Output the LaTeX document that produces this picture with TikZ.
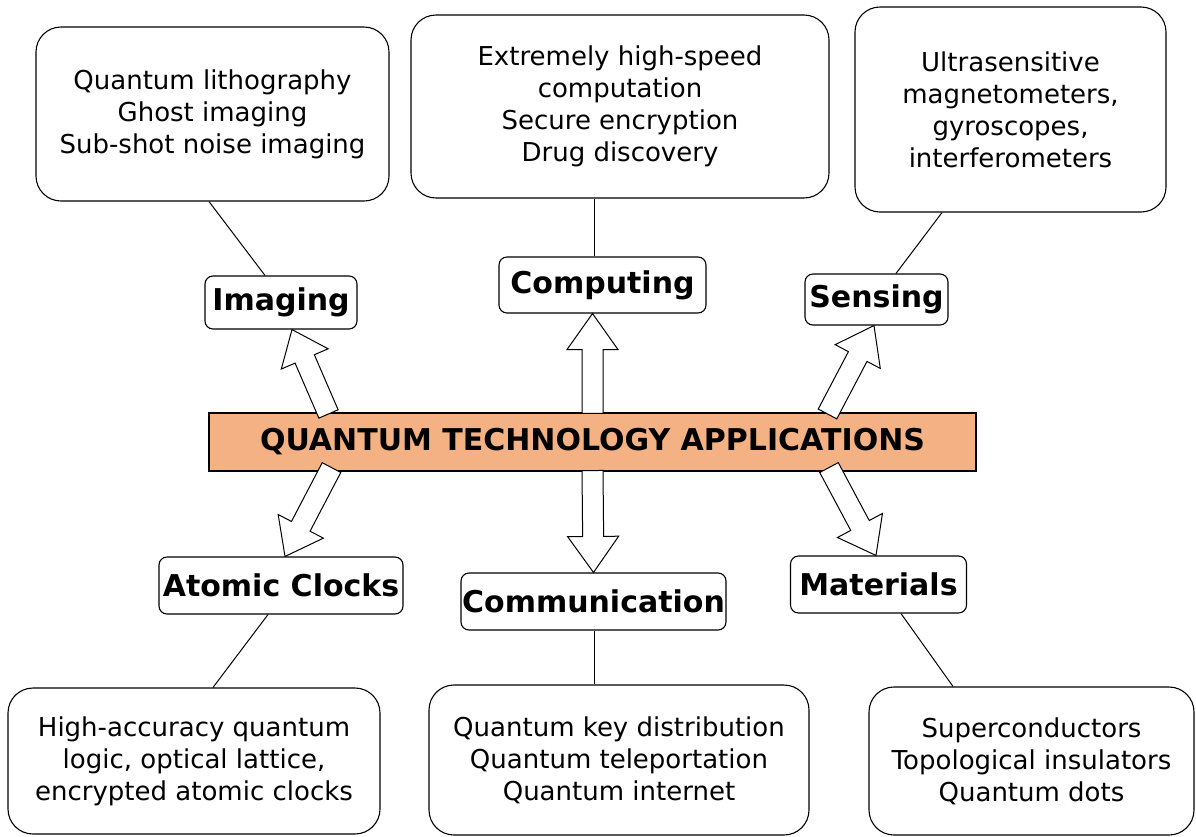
\documentclass[tikz,border=0pt]{standalone}
\usepackage{fontspec}
\setmainfont{DejaVu Sans}
\usetikzlibrary{calc}
\definecolor{qorange}{RGB}{244,177,131}
\tikzset{
  txtbox/.style={draw=black, line width=1.1pt, rounded corners=25pt, fill=white,
    align=center, inner sep=0pt, font=\fontsize{26}{32}\selectfont},
  lblbox/.style={draw=black, line width=1.1pt, rounded corners=8pt, fill=white,
    align=center, inner sep=0pt, font=\fontsize{30}{36}\selectfont\bfseries},
  mainbox/.style={draw=black, line width=1.1pt, fill=qorange,
    align=center, inner sep=0pt, font=\fontsize{30}{36}\selectfont\bfseries},
  link/.style={draw=black, line width=1pt},
  blockarrow/.style={draw=black, line width=1pt, fill=white, line join=miter}
}
\newcommand\blockarr[4]{% #1 name, #2 start, #3 tip, #4 head length
  \coordinate (#1hb) at ($(#3)!#4!(#2)$);
  \path[blockarrow] ($(#2)!10.5pt!90:(#3)$) -- ($(#1hb)!10.5pt!90:(#3)$)
    -- ($(#1hb)!25.5pt!90:(#3)$) -- (#3) -- ($(#1hb)!25.5pt!-90:(#3)$)
    -- ($(#1hb)!10.5pt!-90:(#3)$) -- ($(#2)!10.5pt!-90:(#3)$) -- cycle;
}
\begin{document}
\begin{tikzpicture}[x=1pt,y=-1pt]
\useasboundingbox (0,0) rectangle (1196,836);

% top boxes
\node[txtbox, minimum width=353pt, minimum height=174pt] (imgbox) at (212.5,114)
  {Quantum lithography\\Ghost imaging\\Sub-shot noise imaging};
\node[txtbox, minimum width=418pt, minimum height=183pt] (compbox) at (620,106.5)
  {Extremely high-speed\\computation\\Secure encryption\\Drug discovery};
\node[txtbox, minimum width=311pt, minimum height=205pt] (sensbox) at (1010.5,109.5)
  {Ultrasensitive\\magnetometers,\\gyroscopes,\\interferometers};

% labels
\node[lblbox, minimum width=152pt, minimum height=53pt] (imgl) at (281,302.5) {Imaging};
\node[lblbox, minimum width=207pt, minimum height=56pt] (compl) at (602.5,285) {Computing};
\node[lblbox, minimum width=143pt, minimum height=51pt] (sensl) at (876.5,299.5) {Sensing};
\node[lblbox, minimum width=244pt, minimum height=57pt] (atoml) at (281,585.5) {Atomic Clocks};
\node[lblbox, minimum width=265pt, minimum height=57pt] (comml) at (593.5,601.5) {Communication};
\node[lblbox, minimum width=176pt, minimum height=57pt] (matl) at (878.5,584.5) {Materials};

% central
\node[mainbox, minimum width=767pt, minimum height=58pt] (qta) at (592.5,442)
  {QUANTUM TECHNOLOGY APPLICATIONS};

% bottom boxes
\node[txtbox, minimum width=372pt, minimum height=146pt] (leftbot) at (194,761)
  {High-accuracy quantum\\logic, optical lattice,\\encrypted atomic clocks};
\node[txtbox, minimum width=380pt, minimum height=150pt] (midbot) at (619,760)
  {Quantum key distribution\\Quantum teleportation\\Quantum internet};
\node[txtbox, minimum width=325pt, minimum height=148pt] (rightbot) at (1031.5,761)
  {Superconductors\\Topological insulators\\Quantum dots};

% thin connectors
\draw[link] ([xshift=-3.5pt]imgbox.south) -- ([xshift=-16pt]imgl.north);
\draw[link] ([xshift=-26pt]compbox.south) -- ([xshift=-8.5pt]compl.north);
\draw[link] ([xshift=-68.5pt]sensbox.south) -- ([xshift=19.5pt]sensl.north);
\draw[link] ([xshift=-13pt]atoml.south) -- ([xshift=19pt]leftbot.north);
\draw[link] ([xshift=0.5pt]comml.south) -- ([xshift=-25pt]midbot.north);
\draw[link] ([xshift=22.5pt]matl.south) -- ([xshift=-78.5pt]rightbot.north);

% block arrows
\coordinate (imgA) at ([xshift=-264pt,yshift=-1.5pt]qta.north);
\coordinate (imgB) at ([xshift=11pt]imgl.south);
\coordinate (compA) at ([yshift=-1pt]qta.north);
\coordinate (compB) at ([xshift=-10pt]compl.south);
\coordinate (sensA) at ([xshift=235pt,yshift=-1.5pt]qta.north);
\coordinate (sensB) at ([xshift=-2.5pt]sensl.south);
\coordinate (atomA) at ([xshift=-261pt,yshift=4pt]qta.south);
\coordinate (atomB) at ([xshift=4pt]atoml.north);
\coordinate (commA) at ([yshift=1pt]qta.south);
\coordinate (commB) at (comml.north);
\coordinate (matA) at ([xshift=236.5pt,yshift=4pt]qta.south);
\coordinate (matB) at ([xshift=-2.5pt]matl.north);

\blockarr{a}{imgA}{imgB}{32pt}
\blockarr{b}{compA}{compB}{36pt}
\blockarr{c}{sensA}{sensB}{35pt}
\blockarr{d}{atomA}{atomB}{34pt}
\blockarr{e}{commA}{commB}{36pt}
\blockarr{f}{matA}{matB}{34pt}
\end{tikzpicture}
\end{document}
